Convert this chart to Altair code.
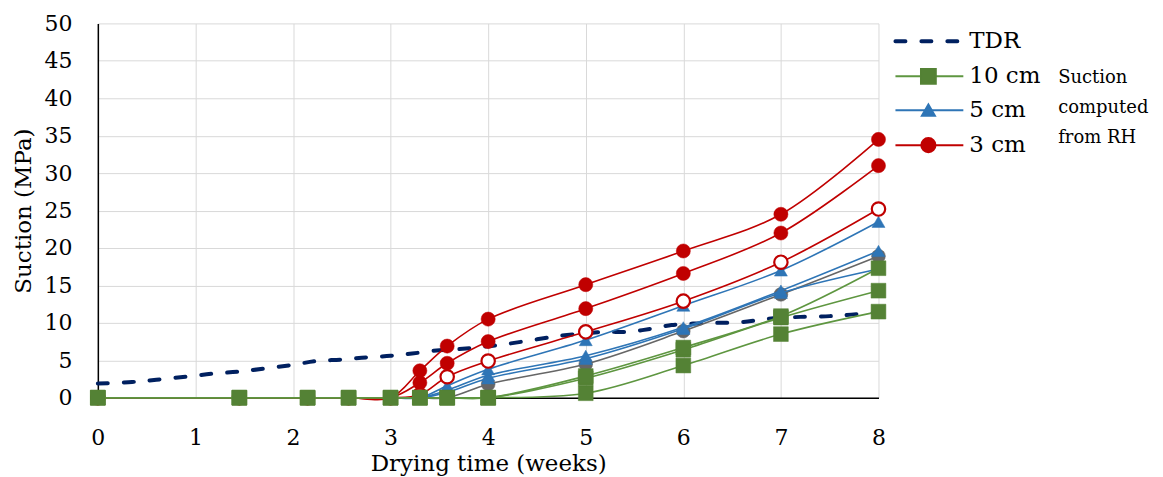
import altair as alt
import pandas as pd

FONT = "DejaVu Serif"

# ---------------- data ----------------
weeks = [0, 1.45, 2.15, 2.57, 3.0, 3.3, 3.58, 4, 5, 6, 7, 8]

red_a = [0, 0, 0, 0, 0, 3.6, 6.9, 10.5, 15.1, 19.6, 24.5, 34.5]
red_b = [0, 0, 0, 0, 0, 2.0, 4.6, 7.5, 11.9, 16.6, 22.0, 31.0]
red_open = [0, 0, 0, 0, 0, 0.4, 2.8, 4.9, 8.8, 12.9, 18.1, 25.2]
blue_a = [0, 0, 0, 0, 0, 0, 1.6, 3.8, 7.7, 12.3, 17.0, 23.5]
blue_b = [0, 0, 0, 0, 0, 0, 1.0, 3.0, 5.6, 9.4, 14.3, 19.6]
blue_c = [0, 0, 0, 0, 0, 0, 0.7, 2.6, 5.2, 9.2, 14.0, 17.2]
gray_a = [0, 0, 0, 0, 0, 0, 0, 1.8, 4.5, 8.9, 13.8, 18.9]
green_a = [0, 0, 0, 0, 0, 0, 0, 0, 2.9, 6.7, 10.9, 17.3]
green_b = [0, 0, 0, 0, 0, 0, 0, 0, 2.6, 6.4, 10.7, 14.3]
green_c = [0, 0, 0, 0, 0, 0, 0, 0, 0.6, 4.3, 8.5, 11.5]

tdr_weeks = [0, 0.35, 0.6, 0.9, 1.17, 1.45, 1.71, 2.0, 2.24, 2.5, 2.76, 3.0,
             3.22, 3.47, 3.7, 3.95, 4.2, 4.5, 4.76, 5.0, 5.2, 5.44, 5.66,
             5.88, 6.1, 6.34, 6.6, 6.84, 7.2, 7.5, 7.72, 8.0]
tdr_vals = [1.9, 2.1, 2.4, 2.8, 3.2, 3.5, 3.9, 4.4, 4.9, 5.1, 5.4, 5.6,
            5.9, 6.3, 6.5, 6.8, 7.2, 7.8, 8.3, 8.6, 8.8, 8.8, 9.2,
            9.7, 9.9, 10.0, 10.1, 10.5, 10.8, 10.9, 11.1, 11.4]

x_ticks = [0, 1, 2, 3, 4, 5, 6, 7, 8]
y_ticks = [0, 5, 10, 15, 20, 25, 30, 35, 40, 45, 50]

legend_labels = ["TDR", "10 cm", "5 cm", "3 cm"]
side_note = ["Suction", "computed", "from RH"]

RED = "#C00000"
BLUE = "#2E75B6"
GREEN = "#548235"
GREEN_LINE = "#5E9640"
GRAY = "#666666"
NAVY = "#002060"

W, H = 782, 375

x_enc = alt.X(
    "week:Q",
    scale=alt.Scale(domain=[0, 8], nice=False, zero=False),
    axis=alt.Axis(values=x_ticks, title="Drying time (weeks)", format="d",
                  labelFontSize=22, labelPadding=30, tickSize=0, labelFlush=False,
                  titleFontSize=23, titlePadding=4, titleFontWeight="normal",
                  grid=True, gridColor="#d9d9d9", domainColor="black",
                  domainWidth=1.5, labelColor="black", titleColor="black"),
)
y_enc = alt.Y(
    "value:Q",
    scale=alt.Scale(domain=[0, 50], nice=False),
    axis=alt.Axis(values=y_ticks, title="Suction (MPa)", labelFlush=False,
                  labelFontSize=22, labelPadding=26, tickSize=0,
                  titleFontSize=23, titlePadding=8, titleFontWeight="normal",
                  grid=True, gridColor="#d9d9d9", domainColor="black",
                  domainWidth=1.5, labelColor="black", titleColor="black"),
)


def series_layers(vals, line_color, mark_color, shape, filled=True, size=190):
    df = pd.DataFrame({"week": weeks, "value": vals})
    base = alt.Chart(df)
    line = base.mark_line(color=line_color, strokeWidth=1.6,
                          interpolate="catmull-rom").encode(x=x_enc, y=y_enc)
    if filled:
        pts = base.mark_point(shape=shape, filled=True, fill=mark_color,
                              stroke=mark_color, strokeWidth=0.5, size=size,
                              opacity=1).encode(x=x_enc, y=y_enc)
    else:
        pts = base.mark_point(shape=shape, filled=True, fill="white",
                              stroke=mark_color, strokeWidth=2.2, size=size - 20,
                              opacity=1).encode(x=x_enc, y=y_enc)
    return [line, pts]


tdr_df = pd.DataFrame({"week": tdr_weeks, "value": tdr_vals})
tdr = alt.Chart(tdr_df).mark_line(
    color=NAVY, strokeWidth=4, strokeDash=[10, 16], strokeCap="round",
    interpolate="catmull-rom").encode(x=x_enc, y=y_enc)

layers = [tdr]
layers += series_layers(gray_a, GRAY, GRAY, "circle")
layers += series_layers(blue_c, BLUE, BLUE, "triangle-up", size=170)
layers += series_layers(blue_b, BLUE, BLUE, "triangle-up", size=170)
layers += series_layers(blue_a, BLUE, BLUE, "triangle-up", size=170)
layers += series_layers(red_open, RED, RED, "circle", filled=False, size=200)
layers += series_layers(red_b, RED, RED, "circle", size=200)
layers += series_layers(red_a, RED, RED, "circle", size=200)
layers += series_layers(green_c, GREEN_LINE, GREEN, "square", size=220)
layers += series_layers(green_b, GREEN_LINE, GREEN, "square", size=220)
layers += series_layers(green_a, GREEN_LINE, GREEN, "square", size=220)

main = alt.layer(*layers).properties(width=W, height=H)

# ---------------- legend panel (own scales, page-like units) -------------
LW = 265
lx = alt.Scale(domain=[890, 890 + LW], nice=False, zero=False)
ly = alt.Scale(domain=[22 + H, 22], nice=False, zero=False)
noax = None

row_y = [40, 75, 109, 144]
line_x0, line_x1, mark_x, text_x = 897, 965, 930, 971

leg_lines = pd.DataFrame({
    "x": [line_x0, line_x1] * 4,
    "y": [row_y[0]] * 2 + [row_y[1]] * 2 + [row_y[2]] * 2 + [row_y[3]] * 2,
    "k": ["TDR"] * 2 + ["10 cm"] * 2 + ["5 cm"] * 2 + ["3 cm"] * 2,
})


def lenc(df_mark):
    return df_mark.encode(
        x=alt.X("x:Q", scale=lx, axis=noax),
        y=alt.Y("y:Q", scale=ly, axis=noax),
    )


leg_tdr = lenc(alt.Chart(leg_lines[leg_lines.k == "TDR"]).mark_line(
    color=NAVY, strokeWidth=4, strokeDash=[10, 16], strokeCap="round"))
leg_g = lenc(alt.Chart(leg_lines[leg_lines.k == "10 cm"]).mark_line(
    color=GREEN_LINE, strokeWidth=2))
leg_b = lenc(alt.Chart(leg_lines[leg_lines.k == "5 cm"]).mark_line(
    color=BLUE, strokeWidth=2))
leg_r = lenc(alt.Chart(leg_lines[leg_lines.k == "3 cm"]).mark_line(
    color=RED, strokeWidth=2))

mk = lambda yy: pd.DataFrame({"x": [mark_x], "y": [yy]})
leg_gm = lenc(alt.Chart(mk(row_y[1])).mark_point(
    shape="square", filled=True, fill=GREEN, stroke=GREEN, size=220, opacity=1))
leg_bm = lenc(alt.Chart(mk(row_y[2])).mark_point(
    shape="triangle-up", filled=True, fill=BLUE, stroke=BLUE, size=170, opacity=1))
leg_rm = lenc(alt.Chart(mk(row_y[3])).mark_point(
    shape="circle", filled=True, fill=RED, stroke=RED, size=200, opacity=1))

txt_df = pd.DataFrame({"x": [text_x] * 4, "y": row_y, "t": legend_labels})
leg_txt = lenc(alt.Chart(txt_df).mark_text(
    align="left", baseline="middle", font=FONT, fontSize=23, color="black",
    dy=0)).encode(text="t:N")

side_df = pd.DataFrame({"x": [1060] * 3, "y": [77, 107, 137], "t": side_note})
side_txt = lenc(alt.Chart(side_df).mark_text(
    align="left", baseline="middle", font=FONT, fontSize=18, color="black")
).encode(text="t:N")

legend = alt.layer(leg_tdr, leg_g, leg_b, leg_r, leg_gm, leg_bm, leg_rm,
                   leg_txt, side_txt).properties(width=LW, height=H)

chart = alt.hconcat(main, legend, spacing=10, bounds="flush").properties(
    padding={"left": 5, "top": 4, "right": 2, "bottom": 2}
).configure(font=FONT).configure_view(stroke=None).configure_axis(
    labelFont=FONT, titleFont=FONT)

chart.save("out.html", embed_options={"renderer": "svg", "actions": False})
